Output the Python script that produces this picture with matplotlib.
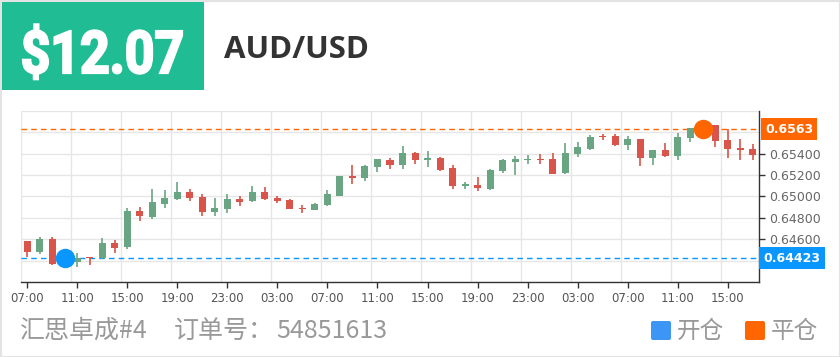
import matplotlib
matplotlib.use("Agg")
import matplotlib.pyplot as plt
from matplotlib.textpath import TextPath
from matplotlib.patches import PathPatch, FancyBboxPatch, Rectangle
from matplotlib.font_manager import FontProperties
from matplotlib.transforms import Affine2D, IdentityTransform, blended_transform_factory
import numpy as np

# hourly candles starting 07:00
start_hour = 7
opens = [0.64581, 0.64484, 0.64602, 0.64368, 0.64390, 0.64430, 0.64421, 0.64562, 0.64524, 0.64864,
         0.64811, 0.64933, 0.64977, 0.65042, 0.64995, 0.64852, 0.64880, 0.64980, 0.64955, 0.65042,
         0.64989, 0.64968, 0.64895, 0.64877, 0.64920, 0.65005, 0.65189, 0.65173, 0.65279, 0.65342,
         0.65295, 0.65410, 0.65342, 0.65363, 0.65264, 0.65098, 0.65111, 0.65073, 0.65242, 0.65326,
         0.65342, 0.65354, 0.65348, 0.65217, 0.65401, 0.65448, 0.65569, 0.65566, 0.65485, 0.65541,
         0.65363, 0.65432, 0.65382, 0.65547, 0.65638, 0.65666, 0.65532, 0.65457, 0.65441]
closes = [0.64484, 0.64602, 0.64368, 0.64420, 0.64428, 0.64422, 0.64562, 0.64521, 0.64864, 0.64815,
          0.64945, 0.64986, 0.65042, 0.64986, 0.64858, 0.64889, 0.64977, 0.64952, 0.65042, 0.64977,
          0.64958, 0.64886, 0.64880, 0.64930, 0.65020, 0.65192, 0.65170, 0.65285, 0.65348, 0.65292,
          0.65410, 0.65345, 0.65363, 0.65251, 0.65101, 0.65117, 0.65080, 0.65251, 0.65339, 0.65348,
          0.65351, 0.65342, 0.65214, 0.65410, 0.65463, 0.65560, 0.65554, 0.65482, 0.65541, 0.65363,
          0.65432, 0.65382, 0.65557, 0.65638, 0.65640, 0.65522, 0.65448, 0.65432, 0.65388]
lows = [0.64437, 0.64459, 0.64362, 0.64360, 0.64337, 0.64356, 0.64412, 0.64474, 0.64509, 0.64771,
        0.64793, 0.64892, 0.64968, 0.64955, 0.64815, 0.64821, 0.64846, 0.64911, 0.64945, 0.64968,
        0.64936, 0.64880, 0.64849, 0.64870, 0.64911, 0.65002, 0.65117, 0.65148, 0.65229, 0.65254,
        0.65260, 0.65307, 0.65276, 0.65242, 0.65073, 0.65070, 0.65051, 0.65064, 0.65223, 0.65204,
        0.65307, 0.65307, 0.65211, 0.65211, 0.65370, 0.65435, 0.65526, 0.65476, 0.65435, 0.65285,
        0.65298, 0.65373, 0.65345, 0.65513, 0.65610, 0.65463, 0.65357, 0.65345, 0.65345]
highs = [0.64584, 0.64618, 0.64618, 0.64440, 0.64468, 0.64432, 0.64615, 0.64593, 0.64892, 0.64898,
         0.65070, 0.65061, 0.65136, 0.65070, 0.65023, 0.64983, 0.65026, 0.65008, 0.65101, 0.65089,
         0.65005, 0.64977, 0.64920, 0.64939, 0.65061, 0.65195, 0.65295, 0.65295, 0.65354, 0.65360,
         0.65470, 0.65416, 0.65426, 0.65373, 0.65292, 0.65139, 0.65182, 0.65260, 0.65354, 0.65379,
         0.65385, 0.65398, 0.65407, 0.65501, 0.65510, 0.65579, 0.65588, 0.65585, 0.65569, 0.65541,
         0.65432, 0.65504, 0.65591, 0.65638, 0.65660, 0.65666, 0.65629, 0.65541, 0.65491]

open_idx, open_price = 3, 0.64423
close_idx, close_price = 54, 0.6563
open_label = "0.64423"
close_label = "0.6563"
yticks = [0.646, 0.648, 0.650, 0.652, 0.654]

profit = "$12.07"
symbol = "AUD/USD"
account = "汇思卓成#4"
order_label = "订单号："
order_no = "54851613"
legend_names = ["开仓", "平仓"]

UP = "#6aa583"
DOWN = "#d9544a"
BLUE = "#0a96ff"
ORANGE = "#ff6600"

W, H = 840, 357
fig = plt.figure(figsize=(W / 100, H / 100), dpi=100)
fig.patch.set_facecolor("white")
px = IdentityTransform()

# outer frame
fig.add_artist(Rectangle((0.5, 0.5), W - 1, H - 1, transform=px, fill=False,
                         edgecolor="#e3e3e3", lw=1.5))

# header
fig.add_artist(Rectangle((2, H - 90), 202, 88, transform=px, facecolor="#20bc94",
                         edgecolor="none"))
fp = FontProperties(family="Roboto", weight="bold")
tp = TextPath((0, 0), profit, size=59, prop=fp)
ext = tp.get_extents()
sx = 159 / ext.width
tr = Affine2D().translate(-ext.x0, 0).scale(sx, 1.0).translate(23, H - 73) + px
fig.add_artist(PathPatch(tp, transform=tr, facecolor="white", edgecolor="white", lw=1.6))
fig.text(224 / W, 1 - 58 / H, symbol, fontsize=22.5, fontweight="bold", color="#333333",
         family="Open Sans", va="baseline", ha="left")

# chart
ax = fig.add_axes([21 / W, 1 - 282 / H, (759 - 21) / W, (282 - 111) / H])
n = len(opens)
x = np.arange(n)
o = np.array(opens)
c = np.array(closes)
colors = [UP if cc >= oo else DOWN for oo, cc in zip(o, c)]
bottoms = np.minimum(o, c)
heights = np.maximum(np.abs(c - o), 0.00002)
ax.vlines(x, lows, highs, colors=colors, lw=1.2, zorder=3)
ax.bar(x, heights, bottom=bottoms, width=0.56, color=colors, zorder=4, linewidth=0)

ax.set_xlim(-0.5, n - 0.5)
ax.set_ylim(0.642, 0.658)
for yv in np.arange(0.642, 0.6581, 0.002):
    ax.axhline(yv, color="#e6e6e6", lw=1, zorder=0)
for xv in np.arange(-0.5, n, 4):
    ax.axvline(xv, color="#e6e6e6", lw=1, zorder=0)

ax.axhline(close_price, color=ORANGE, lw=1, ls=(0, (4, 3)), zorder=2)
ax.axhline(open_price, color=BLUE, lw=1, ls=(0, (4, 3)), zorder=2)
ax.plot([open_idx], [open_price], "o", color=BLUE, ms=14, mec="none", zorder=6)
ax.plot([close_idx], [close_price], "o", color=ORANGE, ms=14, mec="none", zorder=6)

labels = [f"{(start_hour + i) % 24:02d}:00" for i in range(n)]
ax.set_xticks(x[::4])
ax.set_xticklabels(labels[::4])
ax.yaxis.tick_right()
ax.set_yticks(yticks)
ax.set_yticklabels([f"{v:.5f}" for v in yticks])
ax.tick_params(axis="x", length=4, width=1, color="#333333", labelsize=8.5,
               labelcolor="#555555", pad=3)
ax.tick_params(axis="y", length=4, width=1, color="#333333", labelsize=9,
               labelcolor="#666666", pad=3)
for s in ["top", "left"]:
    ax.spines[s].set_visible(False)
for s in ["bottom", "right"]:
    ax.spines[s].set_color("#333333")
    ax.spines[s].set_linewidth(1)

bt = blended_transform_factory(ax.transAxes, ax.transData)
ax.text(1.008, close_price, close_label, transform=bt, color="white", fontsize=9,
        fontweight="bold", va="center", ha="left", clip_on=False,
        bbox=dict(boxstyle="square,pad=0.35", fc=ORANGE, ec="none"))
ax.text(1.006, open_price, open_label, transform=bt, color="white", fontsize=9,
        fontweight="bold", va="center", ha="left", clip_on=False,
        bbox=dict(boxstyle="square,pad=0.35", fc=BLUE, ec="none"))

# footer
cjk = ["Noto Sans CJK SC", "DejaVu Sans"]
fy = 1 - 331 / H
fig.text(20 / W, fy, account, fontsize=18, color="#999999", family=cjk, va="center")
fig.text(174 / W, fy, order_label, fontsize=18, color="#999999", family=cjk, va="center")
fig.text(276 / W, fy, order_no, fontsize=18, color="#999999", family=cjk, va="center")
for lx, tx, col, name in [(651, 677, "#3d95f5", legend_names[0]),
                          (745, 771, ORANGE, legend_names[1])]:
    fig.add_artist(FancyBboxPatch((lx, H - 340), 20, 19, transform=px,
                                  boxstyle="round,pad=0,rounding_size=2",
                                  facecolor=col, edgecolor="none"))
    fig.text(tx / W, fy, name, fontsize=17, color="#999999", family=cjk, va="center")

fig.savefig("out.png", dpi=100)
